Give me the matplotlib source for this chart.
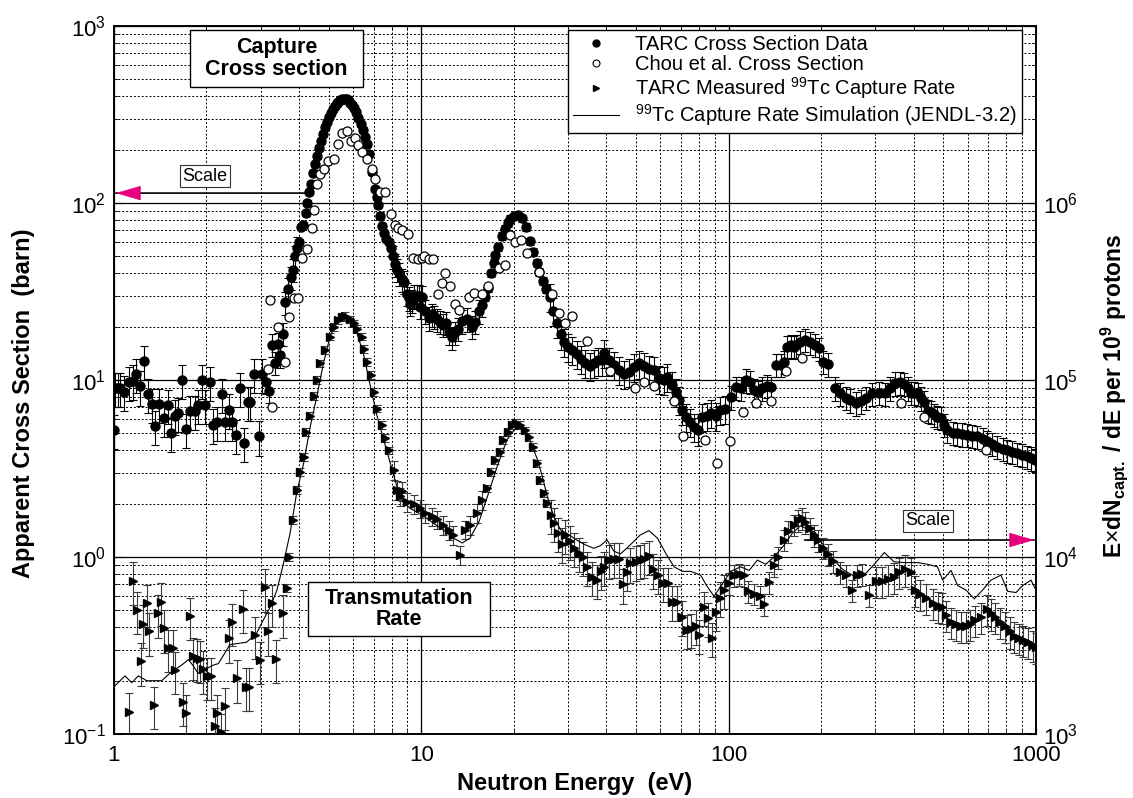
import numpy as np
import matplotlib
matplotlib.use('Agg')
import matplotlib.pyplot as plt
from matplotlib.lines import Line2D
from matplotlib.patches import Rectangle
from matplotlib.ticker import LogLocator, FuncFormatter, NullFormatter

matplotlib.rc('font', family='Liberation Sans', size=16)
matplotlib.rc('mathtext', fontset='custom', rm='Liberation Sans',
              it='Liberation Sans:italic', bf='Liberation Sans:bold')

# TARC apparent capture cross section (barn)
sigma_E = [1.00, 1.01, 1.03, 1.05, 1.08, 1.12, 1.15, 1.18, 1.215, 1.25,
           1.29, 1.33, 1.36, 1.40, 1.45, 1.50, 1.53, 1.58, 1.62, 1.67,
           1.72, 1.77, 1.84, 1.88, 1.94, 1.98, 2.05, 2.10, 2.17, 2.24,
           2.30, 2.36, 2.43, 2.50, 2.58, 2.65, 2.72, 2.78, 2.86, 2.96,
           3.03, 3.12, 3.19, 3.27, 3.35, 3.42, 3.48, 3.54, 3.61, 3.69,
           3.76, 3.81, 3.87, 3.93, 4.00, 4.07, 4.13, 4.20, 4.26, 4.32,
           4.38, 4.45, 4.51, 4.58, 4.65, 4.72, 4.80, 4.87, 4.93, 5.00,
           5.08, 5.15, 5.22, 5.30, 5.37, 5.45, 5.54, 5.63, 5.73, 5.80,
           5.86, 5.95, 6.04, 6.14, 6.24, 6.35, 6.45, 6.55, 6.65, 6.75,
           6.90, 7.05, 7.15, 7.25, 7.36, 7.47, 7.58, 7.70, 7.83, 7.96,
           8.08, 8.20, 8.34, 8.48, 8.64, 8.80, 8.97, 9.10, 9.20, 9.35,
           9.50, 9.65, 9.80, 9.92, 10.05, 10.3, 10.6, 10.8, 11.0, 11.25,
           11.5, 11.75, 12.0, 12.3, 12.6, 12.9, 13.2, 13.6, 14.1, 14.6,
           15.0, 15.4, 15.8, 16.1, 16.5, 16.8, 17.2, 17.4, 17.8, 18.3,
           18.7, 19.1, 19.5, 20.0, 20.6, 21.2, 21.9, 22.6, 23.1, 23.7,
           24.2, 24.8, 25.4, 26.2, 26.8, 27.7, 28.4, 29.1, 30.0, 31.0,
           32.0, 33.0, 34.2, 35.3, 36.4, 37.5, 38.8, 39.4, 40.7, 42.3,
           43.9, 45.6, 47.3, 49.2, 51.0, 53.0, 55.0, 57.1, 59.3, 61.5,
           63.1, 65.6, 67.2, 68.9, 70.6, 72.4, 74.8, 77.1, 79.7, 82.1,
           84.8, 87.8, 90.7, 93.7, 97.0, 101.5, 105.4, 109.4, 113.6, 117.3,
           120.8, 124.5, 128.8, 132.9, 137.7, 142.2, 147.6, 151, 155.3, 159,
           163.2, 166, 171, 177, 184, 191, 197, 203, 211, 222,
           231, 240, 249, 259, 269, 279, 293, 308, 323, 335,
           348, 360, 371, 382, 392, 402, 412, 422, 432, 445,
           455, 466, 478, 490, 502, 515, 535, 555, 575, 598,
           620, 645, 670, 695, 720, 749, 778, 807, 838, 870,
           903, 937, 965, 991]
sigma_val = [5.2, 9.0, 9.0, 9.0, 8.6, 9.7, 9.9, 10.8, 9.2, 12.8,
             8.3, 7.3, 5.5, 7.3, 6.1, 7.2, 5.0, 6.3, 6.5, 10.0,
             5.3, 6.7, 6.7, 7.2, 10.0, 7.2, 9.7, 5.6, 5.8, 8.3,
             5.8, 6.8, 5.8, 4.9, 9.0, 4.4, 7.5, 7.5, 10.8, 4.8,
             10.8, 9.8, 8.7, 15.8, 12.5, 16.0, 13.8, 18.3, 27.5, 32.7,
             38, 42, 50, 56, 60, 73, 75, 88, 100, 115,
             128, 148, 166, 185, 205, 225, 245, 268, 288, 305,
             324, 340, 353, 365, 373, 380, 385, 388, 385, 378,
             369, 357, 343, 325, 302, 280, 258, 235, 215, 190,
             150, 120, 108, 97, 85, 74, 68, 63, 60, 56,
             50, 45, 42, 40, 37, 36, 30.7, 29, 27, 28,
             29.8, 30, 29.8, 26, 29.5, 24.5, 22.4, 23.5, 22.9, 22,
             21.4, 20.5, 21, 18.6, 17.4, 18.6, 19.5, 21.5, 22.1, 20,
             21.4, 24.5, 26.7, 29.5, 33, 40, 45.7, 50.6, 56.7, 65,
             71.6, 77.5, 81.5, 84, 86, 82, 73, 60.8, 52.8, 45.9,
             40.8, 36.4, 32.7, 29.5, 24.5, 21.0, 18.1, 16.5, 15.4, 14.8,
             14.1, 13.2, 12.5, 12.0, 12.5, 12.9, 12.9, 14.3, 12.9, 12.2,
             11.4, 10.8, 11.1, 11.9, 12.4, 12.0, 11.6, 11.4, 10.2, 10.0,
             10.4, 9.4, 8.6, 7.7, 6.8, 6.2, 5.8, 5.45, 5.2, 6.2,
             6.3, 6.5, 6.3, 6.8, 6.9, 8.0, 9.1, 9.0, 10.0, 9.8,
             8.8, 8.6, 9.0, 9.3, 9.1, 12.2, 12.2, 12.7, 15.4, 15.7,
             15.4, 15.7, 16.5, 16.9, 16.3, 15.8, 15.1, 12.7, 12.3, 9.0,
             8.4, 7.95, 7.7, 7.4, 7.6, 7.95, 8.4, 8.5, 8.4, 9.0,
             9.6, 9.7, 9.5, 9.0, 8.5, 8.5, 8.4, 7.9, 7.5, 6.7,
             6.6, 6.4, 6.2, 6.1, 5.6, 5.2, 5.05, 5.0, 4.95, 4.9,
             4.85, 4.8, 4.65, 4.5, 4.35, 4.2, 4.1, 4.0, 3.92, 3.85,
             3.78, 3.7, 3.62, 3.55]
# relative error of the cross section, by energy band
sigma_err_edges = [1, 3.1, 4.0, 8.0, 16, 26, 100, 1000]
sigma_err_rel = [0.22, 0.15, 0.04, 0.15, 0.05, 0.18, 0.15]

# Chou et al. cross section (barn)
chou_E = [3.16, 3.22, 3.26, 3.41, 3.59, 3.70, 3.84, 3.98, 4.08, 4.24,
          4.40, 4.49, 4.59, 4.68, 4.84, 4.98, 5.18, 5.35, 5.52, 5.73,
          5.90, 6.09, 6.24, 6.40, 6.65, 6.90, 7.07, 7.35, 7.59, 7.96,
          8.21, 8.42, 8.64, 9.07, 9.42, 9.74, 10.06, 10.17, 10.63, 10.95,
          11.3, 11.66, 11.95, 12.4, 12.9, 13.3, 14.25, 14.8, 15.7, 16.5,
          17.9, 18.76, 19.5, 20.2, 21.1, 22.1, 24.1, 26.6, 28.0, 29.4,
          30.9, 34.5, 41.1, 49.6, 53.2, 57.3, 66.5, 71.1, 84.0, 91.9,
          101, 111, 123, 137, 154, 173, 365, 432, 690]
chou_val = [11.5, 28.2, 7.0, 19.8, 12.6, 22.7, 29, 29, 49, 55,
            72, 91, 128, 145, 155, 173, 178, 216, 248, 255,
            224, 234, 212, 193, 178, 155, 137, 116, 116, 87,
            75, 72, 70, 67, 49, 48.5, 49, 50.5, 48, 48,
            30.7, 35.5, 40, 34, 27, 24.8, 29.5, 31, 30.7, 34,
            43, 44.4, 65.8, 60, 61.6, 52, 40.5, 30.7, 24, 20.9,
            22.9, 16.7, 11.3, 9.0, 9.7, 9.25, 7.6, 4.8, 4.6, 3.4,
            4.5, 6.6, 7.4, 7.6, 11.3, 13.4, 7.4, 6.2, 4.0]

# TARC measured 99Tc capture rate, E dN/dE per 1e9 protons (right axis)
capt_E = [1.12, 1.155, 1.185, 1.22, 1.245, 1.278, 1.303, 1.35, 1.394, 1.423,
          1.455, 1.503, 1.553, 1.58, 1.675, 1.716, 1.768, 1.813, 1.867, 1.906,
          1.954, 2.004, 2.07, 2.133, 2.17, 2.227, 2.299, 2.375, 2.418, 2.521,
          2.626, 2.69, 2.753, 2.879, 2.99, 3.10, 3.18, 3.26, 3.37, 3.56,
          3.65, 3.72, 3.82, 3.94, 4.04, 4.14, 4.22, 4.35, 4.46, 4.57,
          4.69, 4.87, 5.03, 5.18, 5.34, 5.52, 5.65, 5.84, 6.02, 6.18,
          6.41, 6.53, 6.65, 6.86, 7.0, 7.17, 7.45, 7.63, 7.82, 8.13,
          8.33, 8.5, 8.65, 8.98, 9.44, 9.93, 10.3, 10.8, 11.25, 11.8,
          12.3, 12.7, 13.4, 13.9, 14.4, 15.2, 15.8, 16.3, 16.8, 17.4,
          18.0, 18.5, 19.1, 19.7, 20.4, 21.0, 21.7, 22.4, 23.1, 23.8,
          24.4, 25.0, 25.7, 26.4, 27.1, 27.8, 28.7, 29.4, 30.4, 31.3,
          32.5, 33.6, 34.6, 36.0, 37.2, 38.3, 39.4, 40.7, 42.3, 43.9,
          45.4, 46.8, 47.9, 49.8, 51.4, 53.0, 55.0, 56.8, 58.8, 61.3,
          63.3, 65.6, 67.7, 70.6, 73.3, 75.5, 78.1, 80.0, 83.1, 85.4,
          88.5, 90.7, 93.7, 96.6, 100.2, 104, 108, 112, 116, 121,
          126, 130, 135, 140, 145, 151, 156, 163, 168, 173,
          177, 184, 190, 196, 203, 211, 219, 231, 240, 251,
          262, 272, 286, 301, 315, 330, 344, 357, 374, 392,
          405, 418, 440, 463, 480, 495, 510, 527, 548, 568,
          590, 612, 635, 660, 692, 712, 735, 762, 792, 820,
          847, 878, 910, 945, 979, 1000]
capt_val = [1340, 7350, 5000, 2570, 4200, 5500, 3800, 1460, 4800, 5600,
            3950, 3050, 3050, 2300, 1520, 1310, 4640, 2750, 2700, 2650,
            2320, 2130, 2130, 1110, 1310, 1020, 1440, 3470, 4300, 2060,
            5100, 1850, 1850, 3630, 2620, 6740, 3800, 5500, 2670, 4800,
            6700, 10000, 16200, 24000, 30300, 36900, 51000, 63000, 81500, 100000,
            124000, 148000, 176000, 200000, 217000, 228000, 230000, 220000, 209000, 195000,
            176000, 150000, 127000, 107000, 86000, 69000, 56000, 47000, 40000, 31000,
            23900, 22000, 23700, 20500, 20000, 18800, 17800, 17000, 16300, 15200,
            14200, 13300, 10300, 14300, 15200, 17700, 21000, 24400, 30300, 35300,
            39400, 45800, 51000, 55700, 57000, 56000, 52000, 47900, 42000, 33800,
            27200, 22900, 20100, 17300, 15500, 13600, 11900, 13300, 12300, 11200,
            10500, 10000, 8800, 7700, 7400, 8300, 8800, 9600, 9800, 9800,
            7000, 8200, 9200, 9400, 9600, 9800, 10100, 8500, 7900, 7100,
            7100, 5600, 5600, 4600, 3870, 3900, 4100, 3630, 5200, 4500,
            3470, 4900, 5900, 6500, 7100, 7900, 8000, 7900, 6400, 6200,
            6000, 5400, 7200, 9000, 10000, 12500, 14000, 15200, 16200, 16600,
            15700, 14600, 13300, 12400, 11300, 10400, 9500, 8200, 7900, 6500,
            7900, 8000, 6100, 7300, 7300, 7500, 7700, 8200, 8500, 8200,
            6500, 6200, 5900, 5500, 5300, 5200, 4700, 4300, 4200, 4100,
            4100, 4200, 4400, 4600, 5100, 4800, 4600, 4300, 4100, 3800,
            3600, 3500, 3400, 3300, 3200, 3100]
capt_err_edges = [1, 3.6, 8.0, 16, 26, 100, 300, 1000]
capt_err_rel = [0.27, 0.05, 0.12, 0.05, 0.22, 0.14, 0.20]

# 99Tc capture rate simulation (JENDL-3.2), right axis units
sim_E = [1.0, 1.086, 1.142, 1.2, 1.278, 1.43, 1.54, 1.66, 1.746, 1.804,
         1.88, 1.98, 2.105, 2.187, 2.385, 2.70, 2.91, 3.06, 3.22, 3.39,
         3.56, 3.74, 3.93, 4.14, 4.35, 4.57, 4.80, 5.05, 5.30, 5.57,
         5.86, 6.16, 6.48, 6.82, 7.17, 7.54, 7.92, 8.33, 8.7, 9.21,
         10.06, 10.96, 11.8, 12.7, 13.6, 14.4, 15.4, 16.4, 17.6, 19.0,
         20.5, 22.0, 23.8, 24.7, 25.7, 27.0, 28.4, 29.8, 31.7, 34.2,
         36.4, 38.3, 40.2, 42.3, 44.4, 46.6, 49.0, 51.5, 55.0, 58.6,
         62.4, 66.4, 70.7, 75.2, 81.0, 85.2, 89.6, 91.9, 96.6, 101.5,
         109.4, 116.6, 124, 132, 140.3, 151, 161, 171, 177, 191,
         203, 218, 235, 259, 274, 296, 321, 345, 372, 412,
         444, 478, 497, 529, 556, 592, 630, 670, 713, 769,
         809, 861, 905, 963, 1000]
sim_val = [1850, 2130, 1950, 2130, 2000, 2000, 2250, 2450, 2630, 2450,
           2200, 2320, 2450, 2500, 3200, 3300, 3700, 4400, 5200, 6500,
           9200, 13600, 23000, 33800, 54500, 80500, 124000, 176000, 214000, 230000,
           220000, 186000, 141000, 93000, 63000, 46000, 34000, 25000, 20500, 18800,
           17300, 15500, 14200, 12800, 12000, 12800, 15800, 21900, 32000, 46000,
           55000, 51000, 36000, 29000, 21900, 16900, 14200, 13600, 12600, 11700,
           11200, 11600, 12500, 10800, 10400, 11200, 12200, 13300, 14100, 12800,
           10500, 8800, 8300, 8300, 7900, 6800, 6000, 6400, 7300, 8300,
           8800, 8400, 9600, 9100, 10000, 11600, 13600, 15000, 14600, 13800,
           11700, 9800, 8500, 7700, 7800, 9000, 10600, 9400, 9300, 9300,
           9100, 8800, 7400, 8400, 6900, 6500, 5800, 6500, 7400, 7900,
           6400, 6300, 6900, 7400, 6500]


def rel_errors(E, vals, edges, rel):
    E = np.asarray(E)
    vals = np.asarray(vals, dtype=float)
    idx = np.clip(np.searchsorted(edges, E, side='right') - 1, 0, len(rel) - 1)
    return vals * np.asarray(rel)[idx]


fig = plt.figure(figsize=(11.33, 7.98), dpi=100)
ax = fig.add_axes([0.1006, 0.0802, 0.8138, 0.8872])
ax2 = ax.twinx()

for a in (ax, ax2):
    a.set_xscale('log')
    a.set_yscale('log')
    a.set_xlim(1, 1000)
ax.set_ylim(0.1, 1000)
ax2.set_ylim(1e3, 1e7)

ax.xaxis.set_minor_locator(LogLocator(base=10, subs=np.arange(2, 10), numticks=100))
ax.yaxis.set_minor_locator(LogLocator(base=10, subs=np.arange(2, 10), numticks=100))
ax2.yaxis.set_minor_locator(LogLocator(base=10, subs=np.arange(2, 10), numticks=100))
ax.xaxis.set_major_formatter(FuncFormatter(lambda v, p: f'{v:g}'))
ax.xaxis.set_minor_formatter(NullFormatter())
ax2.yaxis.set_major_formatter(FuncFormatter(
    lambda v, p: r'$10^{%d}$' % round(np.log10(v)) if v < 5e6 else ''))
ax2.yaxis.set_minor_formatter(NullFormatter())

ax.set_axisbelow(True)
ax.grid(True, which='major', color='black', lw=0.9, ls='-')
ax.grid(True, which='minor', color='black', lw=0.7, ls=(0, (2, 2)))

ax.tick_params(which='both', direction='in', top=True, right=False, labelsize=16)
ax.tick_params(which='major', length=6)
ax.tick_params(which='minor', length=3)
ax.tick_params(axis='x', pad=8)
ax.tick_params(axis='y', pad=6)
ax2.tick_params(which='both', direction='in', labelsize=16, pad=5)
ax2.tick_params(which='major', length=6)
ax2.tick_params(which='minor', length=3)
for a in (ax, ax2):
    for s in a.spines.values():
        s.set_linewidth(1.2)

# cross section data
ax.errorbar(sigma_E, sigma_val,
            yerr=rel_errors(sigma_E, sigma_val, sigma_err_edges, sigma_err_rel),
            fmt='o', ms=6.5, color='black', ecolor='black', elinewidth=0.8,
            capsize=3, capthick=0.8, zorder=3)
ax.plot(chou_E, chou_val, 'o', ms=6.5, mfc='white', mec='black', mew=0.9, zorder=4)

# capture rate data
ax2.errorbar(capt_E, capt_val,
             yerr=rel_errors(capt_E, capt_val, capt_err_edges, capt_err_rel),
             fmt='>', ms=6, color='black', ecolor='#3a3a3a', elinewidth=0.8,
             capsize=3, capthick=0.8, zorder=3)
ax2.plot(sim_E, sim_val, color='black', lw=0.8, zorder=4)

ax.set_xlabel('Neutron Energy  (eV)', fontsize=17, fontweight='bold', labelpad=4)
ax.set_ylabel('Apparent Cross Section  (barn)', fontsize=17, fontweight='bold')
ax.yaxis.set_label_coords(-0.086, 0.467)
ax2.set_ylabel(r'E$\times$dN$_{\mathbf{capt.}}$ / dE per 10$^{\mathbf{9}}$ protons',
               fontsize=16.5, fontweight='bold')
ax2.yaxis.set_label_coords(1.068, 0.477)

handles = [
    Line2D([], [], marker='o', ls='none', color='black', ms=5),
    Line2D([], [], marker='o', ls='none', mfc='white', mec='black', ms=5, mew=0.8),
    Line2D([], [], marker='>', ls='none', color='black', ms=5),
    Line2D([], [], color='black', lw=0.8),
]
labels = ['TARC Cross Section Data', 'Chou et al. Cross Section',
          r'TARC Measured $^{99}$Tc Capture Rate',
          r'$^{99}$Tc Capture Rate Simulation (JENDL-3.2)']
leg = ax2.legend(handles, labels, loc='upper right', bbox_to_anchor=(0.985, 0.994),
                 borderaxespad=0, fontsize=14.5, fancybox=False, edgecolor='black',
                 framealpha=1, borderpad=0.25, labelspacing=0.05,
                 handlelength=2.3, handletextpad=0.8)
leg.get_frame().set_linewidth(1.0)
leg.set_zorder(20)

# annotation boxes
for (x0, y0, w, h, txt) in [(0.0824, 0.9138, 0.1876, 0.0805, 'Capture\nCross section'),
                            (0.2104, 0.1384, 0.1974, 0.0763, 'Transmutation\nRate')]:
    ax2.add_patch(Rectangle((x0, y0), w, h, transform=ax2.transAxes, fc='white',
                            ec='black', lw=1.0, zorder=15))
    ax2.text(x0 + w / 2, y0 + h / 2, txt, transform=ax2.transAxes, ha='center',
             va='center', fontsize=15.5, fontweight='bold', linespacing=1.05, zorder=16)

pink = '#e5007d'
for (xs, xe, y, tx, ty) in [(0.209, 0.002, 0.764, 0.0987, 0.788),
                            (0.749, 0.998, 0.274, 0.883, 0.301)]:
    ax2.annotate('', xy=(xe, y), xytext=(xs, y), xycoords='axes fraction',
                 arrowprops=dict(arrowstyle='-', color='black', lw=1.2,
                                 shrinkA=0, shrinkB=0), zorder=12)
    d = 0.026 if xe > xs else -0.026
    ax2.annotate('', xy=(xe, y), xytext=(xe - d, y), xycoords='axes fraction',
                 arrowprops=dict(arrowstyle='-|>,head_length=1.1,head_width=0.32',
                                 fc=pink, ec=pink, lw=0.6, mutation_scale=15,
                                 shrinkA=0, shrinkB=0), zorder=13)
    ax2.text(tx, ty, 'Scale', transform=ax2.transAxes, ha='center', va='center',
             fontsize=13, zorder=14,
             bbox=dict(boxstyle='square,pad=0.15', fc='white', ec='#333333', lw=0.8))

fig.savefig('out.png', dpi=100)
